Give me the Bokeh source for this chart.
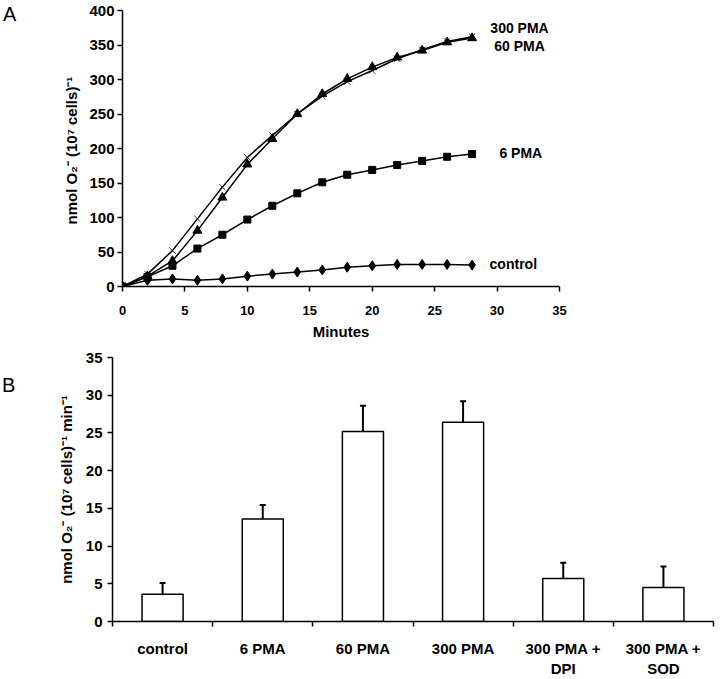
from bokeh.plotting import figure
from bokeh.layouts import column, row
from bokeh.models import Range1d, FixedTicker, Label, Whisker, TeeHead, ColumnDataSource, Div
from bokeh.embed import file_html
from bokeh.resources import INLINE

# ---- Panel A data ----
minutes = [0, 2, 4, 6, 8, 10, 12, 14, 16, 18, 20, 22, 24, 26, 28]
control = [0, 9, 11, 9, 11, 15, 18, 21, 24, 28, 30, 32, 32, 32, 31]
pma6 = [0, 14, 30, 55, 75, 97, 117, 135, 151, 162, 169, 176, 182, 188, 192]
pma60 = [0, 15, 37, 81, 129, 177, 214, 250, 279, 301, 318, 332, 342, 354, 360]
pma300 = [0, 18, 52, 98, 144, 187, 219, 250, 276, 297, 313, 330, 343, 355, 362]
x_ticks_a = [0, 5, 10, 15, 20, 25, 30, 35]
y_ticks_a = [0, 50, 100, 150, 200, 250, 300, 350, 400]

# ---- Panel B data ----
groups = ["control", "6 PMA", "60 PMA", "300 PMA", "300 PMA +\nDPI", "300 PMA +\nSOD"]
rate = [3.6, 13.6, 25.2, 26.4, 5.7, 4.5]
rate_err = [1.5, 1.85, 3.4, 2.8, 2.1, 2.8]
y_ticks_b = [0, 5, 10, 15, 20, 25, 30, 35]

FONT = "Liberation Sans"
SIDE = 22  # width of the panel-letter column


def style_axes(p):
    for ax in (p.xaxis[0], p.yaxis[0]):
        ax.axis_line_color = "black"
        ax.axis_line_width = 1.5
        ax.major_tick_line_color = "black"
        ax.major_tick_line_width = 1.5
        ax.major_tick_in = 0
        ax.major_tick_out = 5
        ax.minor_tick_line_color = None
        ax.major_label_text_font = FONT
        ax.major_label_text_font_style = "bold"
        ax.major_label_text_color = "black"
        ax.axis_label_text_font = FONT
        ax.axis_label_text_font_style = "bold"
        ax.axis_label_text_color = "black"
    p.xgrid.grid_line_color = None
    p.ygrid.grid_line_color = None
    p.outline_line_color = None


def letter(txt, height, pad_top, pad_left):
    return Div(text=txt, width=SIDE, height=height, margin=(0, 0, 0, 0),
               styles={"font-family": FONT, "font-size": "20px", "line-height": "20px",
                       "padding-top": f"{pad_top}px", "padding-left": f"{pad_left}px",
                       "color": "black", "box-sizing": "border-box"})

# ---------------- Panel A ----------------
p1 = figure(width=720 - SIDE, height=345, x_range=Range1d(0, 35), y_range=Range1d(0, 400),
            output_backend="svg", toolbar_location=None,
            min_border_left=122 - SIDE, min_border_right=161, min_border_top=10, min_border_bottom=59)
style_axes(p1)
p1.xaxis.ticker = FixedTicker(ticks=x_ticks_a)
p1.yaxis.ticker = FixedTicker(ticks=y_ticks_a)
p1.xaxis.major_label_text_font_size = "13px"
p1.yaxis.major_label_text_font_size = "15px"
p1.xaxis.major_label_standoff = 14
p1.yaxis.major_label_standoff = 3
p1.xaxis.axis_label = "Minutes"
p1.xaxis.axis_label_text_font_size = "15px"
p1.xaxis.axis_label_standoff = 5
p1.yaxis.axis_label = "nmol O\u2082\u207b  (10\u2077 cells)\u207b\u00b9"
p1.yaxis.axis_label_text_font_size = "15px"
p1.yaxis.axis_label_standoff = 6

lw = 1.5
p1.line(minutes, control, line_color="black", line_width=lw)
p1.scatter(minutes, control, marker="diamond", size=10, color="black")
p1.line(minutes, pma6, line_color="black", line_width=lw)
p1.scatter(minutes, pma6, marker="square", size=7, color="black")
p1.line(minutes, pma60, line_color="black", line_width=lw)
p1.scatter(minutes, pma60, marker="triangle", size=9, color="black")
p1.line(minutes, pma300, line_color="black", line_width=lw)
p1.scatter(minutes, pma300, marker="x", size=9, line_color="black", line_width=0.8)

for txt, xx, yy in [("300 PMA", 31.8, 375), ("60 PMA", 31.8, 348),
                    ("6 PMA", 31.9, 193), ("control", 31.3, 33)]:
    p1.add_layout(Label(x=xx, y=yy, text=txt, text_font=FONT, text_font_style="bold",
                        text_font_size="14px", text_align="center", text_baseline="middle",
                        text_color="black"))

# ---------------- Panel B ----------------
centers = [i + 0.5 for i in range(len(groups))]
upper = [r + e for r, e in zip(rate, rate_err)]
src = ColumnDataSource(dict(x=centers, top=rate, upper=upper))

p2 = figure(width=720 - SIDE, height=334, x_range=Range1d(0, len(groups)), y_range=Range1d(0, 35),
            output_backend="svg", toolbar_location=None,
            min_border_left=112 - SIDE, min_border_right=7, min_border_top=12, min_border_bottom=54)
style_axes(p2)
p2.yaxis.ticker = FixedTicker(ticks=y_ticks_b)
p2.xaxis.ticker = FixedTicker(ticks=centers, minor_ticks=list(range(len(groups) + 1)))
p2.xaxis.major_label_overrides = {c: g for c, g in zip(centers, groups)}
p2.xaxis.major_tick_out = 0
p2.xaxis.minor_tick_line_color = "black"
p2.xaxis.minor_tick_line_width = 1.5
p2.xaxis.minor_tick_out = 5
p2.xaxis.minor_tick_in = 0
p2.xaxis.major_label_text_font_size = "15px"
p2.xaxis.major_label_standoff = 13
p2.yaxis.major_label_text_font_size = "15px"
p2.yaxis.major_label_standoff = 5
p2.yaxis.axis_label = "nmol O\u2082\u207b (10\u2077 cells)\u207b\u00b9 min\u207b\u00b9"
p2.yaxis.axis_label_text_font_size = "15px"
p2.yaxis.axis_label_standoff = 8

p2.add_layout(Whisker(source=src, base="x", lower="top", upper="upper",
                      line_color="black", line_width=2, lower_head=None,
                      upper_head=TeeHead(size=6, line_color="black", line_width=2)))
p2.vbar(x="x", top="top", bottom=0, width=0.41, source=src,
        fill_color="white", line_color="black", line_width=1.5)

layout = column(row(letter("A", 345, 4, 3), p1, spacing=0),
                row(letter("B", 334, 30, 2), p2, spacing=0), spacing=0)
open("out.html", "w").write(file_html(layout, INLINE))
